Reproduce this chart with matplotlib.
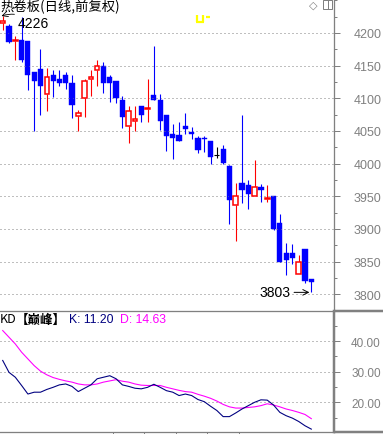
"""
热卷板 日线 K线 + KD 指标 重绘
"""

import matplotlib
matplotlib.use("Agg")
import matplotlib.pyplot as plt
from matplotlib.patches import Rectangle
from matplotlib.lines import Line2D
from matplotlib.ticker import MultipleLocator, FormatStrFormatter

plt.rcParams['font.family'] = ['Liberation Sans', 'Noto Sans CJK SC', 'DejaVu Sans']

# ---------------------------------------------------------------------------
# Data
opens = [4215, 4211, 4187, 4189, 4187, 4140, 4145, 4106, 4136, 4130,
         4136, 4123, 4073, 4100, 4129, 4143, 4149, 4133, 4127, 4097,
         4058, 4066, 4088, 4083, 4105, 4098, 4074, 4045, 4044, 4057,
         4049, 4039, 4040, 4035, 4013, 4022, 3996, 3936, 3970, 3967,
         3951, 3964, 3946, 3950, 3909, 3863, 3863, 3831, 3869, 3823]
closes = [4219, 4186, 4189, 4159, 4135, 4127, 4119, 4132, 4126, 4123,
          4124, 4090, 4077, 4127, 4133, 4149, 4124, 4124, 4100, 4071,
          4080, 4068, 4075, 4085, 4098, 4065, 4042, 4039, 4035, 4053,
          4045, 4021, 4037, 4010, 4013, 4001, 3945, 3950, 3960, 3954,
          3965, 3960, 3948, 3900, 3849, 3852, 3856, 3849, 3820, 3819]
highs = [4226, 4214, 4196, 4224, 4187, 4140, 4176, 4146, 4143, 4143,
         4140, 4135, 4082, 4130, 4143, 4159, 4156, 4135, 4127, 4103,
         4088, 4088, 4088, 4130, 4180, 4106, 4074, 4061, 4064, 4078,
         4056, 4043, 4043, 4035, 4025, 4029, 3998, 3970, 4075, 3975,
         4006, 3969, 3967, 3950, 3923, 3879, 3877, 3860, 3869, 3824]
lows = [4205, 4184, 4159, 4155, 4113, 4050, 4074, 4081, 4102, 4119,
        4114, 4070, 4050, 4072, 4104, 4119, 4108, 4095, 4093, 4054,
        4031, 4050, 4064, 4063, 4097, 4052, 4020, 4007, 4035, 4045,
        4038, 4017, 4018, 3999, 4008, 3999, 3908, 3881, 3940, 3930,
        3951, 3941, 3941, 3899, 3849, 3830, 3846, 3831, 3817, 3803]

k_vals = [33.7, 29.8, 28.2, 25.5, 22.7, 23.3, 23.3, 24.2, 24.9, 25.7,
          26.0, 25.2, 23.5, 24.6, 25.7, 27.7, 28.2, 28.7, 27.7, 25.7,
          25.2, 24.6, 24.4, 24.9, 25.9, 24.9, 23.8, 23.3, 22.2, 22.7,
          22.2, 20.9, 20.2, 18.7, 17.3, 15.3, 15.3, 16.5, 17.8, 18.9,
          20.0, 20.8, 20.7, 19.1, 16.7, 15.6, 14.8, 13.7, 12.3, 11.20]
d_vals = [43.5, 41.3, 39.1, 36.4, 34.2, 32.0, 30.2, 29.0, 28.1, 27.5,
          27.0, 26.6, 26.0, 25.7, 25.7, 26.0, 26.6, 27.0, 27.4, 26.9,
          26.6, 26.0, 25.6, 25.5, 25.5, 25.5, 24.9, 24.4, 23.9, 23.5,
          23.3, 22.6, 22.0, 21.3, 20.4, 19.3, 18.5, 18.1, 18.1, 18.3,
          18.5, 18.9, 19.5, 19.1, 18.5, 17.8, 17.3, 16.7, 16.0, 14.63]

price_ticks = [3800, 3850, 3900, 3950, 4000, 4050, 4100, 4150, 4200]
kd_ticks = [20, 30, 40]
date_ticks = [17.5, 22.5, 27.5, 32.5, 37.5]

title = "热卷板(日线,前复权)"
hi_label = "4226"
lo_label = "3803"

# ---------------------------------------------------------------------------
W, H = 383, 435
GRAY = "#808080"
BLUE = "#0000FF"
RED = "#FF0000"
PX = 0.72  # one pixel in points

fig = plt.figure(figsize=(W / 100, H / 100), dpi=100)


def fx(px):
    return px / W


def fy(py):
    return 1 - py / H


ax = fig.add_axes([0, fy(311), fx(334), 311 / H])
kd = fig.add_axes([0, fy(433), fx(334), (433 - 312) / H])

# --- candles ---------------------------------------------------------------
bw = 0.82
for i, (o, h, l, c) in enumerate(zip(opens, highs, lows, closes)):
    if c < o:
        ax.vlines(i, l, h, color=BLUE, lw=PX * 1.1)
        ax.add_patch(Rectangle((i - bw / 2, c), bw, o - c, facecolor=BLUE,
                               edgecolor=BLUE, lw=0.3))
    elif c > o:
        ax.vlines(i, c, h, color=RED, lw=PX * 1.1)
        ax.vlines(i, l, o, color=RED, lw=PX * 1.1)
        ax.add_patch(Rectangle((i - bw / 2 + 0.05, o), bw - 0.1, c - o,
                               facecolor="white", edgecolor=RED, lw=1.1, zorder=3))
    else:
        ax.vlines(i, l, h, color="black", lw=PX * 1.1)
        ax.hlines(o, i - bw / 2, i + bw / 2, color="black", lw=PX * 1.1)

ax.set_xlim(-0.43, 52.6)
ax.set_ylim(3776, 4252)
ax.set_yticks(price_ticks)
ax.yaxis.set_minor_locator(MultipleLocator(25))
ax.yaxis.tick_right()
ax.set_xticks([])
ax.tick_params(axis="y", which="major", direction="out", length=4.3, width=PX,
               color=GRAY, labelcolor=GRAY, labelsize=9, pad=10)
ax.tick_params(axis="y", which="minor", direction="out", length=2, width=PX, color=GRAY)
ax.grid(True, axis="y", color=GRAY, linestyle=(0, (1, 3)), linewidth=PX)
for s in ["top", "left", "bottom"]:
    ax.spines[s].set_visible(False)
ax.spines["right"].set_color(GRAY)
ax.spines["right"].set_linewidth(PX * 1.3)

# high / low labels
imax = highs.index(max(highs))
ax.annotate(hi_label, xy=(imax - 0.2, highs[imax]), xytext=(2.3, highs[imax] - 11),
            fontsize=10, va="center", ha="left",
            arrowprops=dict(arrowstyle="->", color="black", lw=0.6,
                            shrinkA=0, shrinkB=0, connectionstyle="arc3,rad=0.3"))
imin = lows.index(min(lows))
ax.annotate(lo_label, xy=(imin - 0.3, lows[imin]), xytext=(45.6, lows[imin]),
            fontsize=10, va="center", ha="right",
            arrowprops=dict(arrowstyle="->", color="black", lw=0.7,
                            shrinkA=1, shrinkB=0))

# --- KD ---------------------------------------------------------------------
xs = list(range(len(k_vals)))
kd.plot(xs, d_vals, color="#FF00FF", lw=PX * 1.1)
kd.plot(xs, k_vals, color="#000080", lw=PX * 1.1)
kd.set_xlim(-0.43, 52.6)
kd.set_ylim(10.26, 49.9)
kd.set_yticks(kd_ticks)
kd.yaxis.set_minor_locator(MultipleLocator(5))
kd.yaxis.set_major_formatter(FormatStrFormatter("%.2f"))
kd.yaxis.tick_right()
kd.set_xticks(date_ticks)
kd.set_xticklabels([])
kd.tick_params(axis="x", direction="out", length=2, width=PX, color=GRAY)
kd.tick_params(axis="y", which="major", direction="out", length=4.3, width=PX,
               color=GRAY, labelcolor=GRAY, labelsize=8.5, pad=8)
kd.tick_params(axis="y", which="minor", direction="out", length=2, width=PX, color=GRAY)
kd.grid(True, axis="y", color=GRAY, linestyle=(0, (1, 3)), linewidth=PX)
kd.spines["left"].set_visible(False)
for s in ["top", "bottom"]:
    kd.spines[s].set_color(GRAY)
    kd.spines[s].set_linewidth(PX * 1.3)
kd.spines["right"].set_color(GRAY)
kd.spines["right"].set_linewidth(PX * 2.5)

# --- frame lines running into the right margin ---------------------------------
def fline(x0, y0, x1, y1, lw, color=GRAY):
    fig.add_artist(Line2D([fx(x0), fx(x1)], [fy(y0), fy(y1)], color=color,
                          lw=lw, transform=fig.transFigure, solid_capstyle="butt"))


fline(334, 312, 383, 312, PX * 2.5)
fline(334, 433, 383, 433, PX * 2.5)

# --- texts ---------------------------------------------------------------------
cjk = ["Noto Sans CJK SC", "DejaVu Sans"]
fig.text(fx(0), fy(0), title, family=cjk, fontsize=9.6, va="top", ha="left")
fig.text(fx(0), fy(320), "KD", family=cjk, fontsize=9, va="center", ha="left")
fig.text(fx(16), fy(320), "【巅峰】", family=cjk, fontsize=9, va="center", ha="left",
         weight="bold")
fig.text(fx(69), fy(320), f"K: {k_vals[-1]:.2f}", fontsize=8.8, va="center",
         ha="left", color="#000080")
fig.text(fx(120), fy(320), f"D: {d_vals[-1]:.2f}", fontsize=8.8, va="center",
         ha="left", color="#FF00FF")

# small yellow marker and corner icons
fline(197, 16, 197, 23, 1.6, "#FFFF00")
fline(203, 16, 203, 23, 1.6, "#FFFF00")
fline(196.5, 22.5, 203.5, 22.5, 1.6, "#FFFF00")
fline(206, 17.5, 210, 17.5, 1.6, "#FFFF00")
fig.text(fx(309), fy(6), "◇", family=["DejaVu Sans"], fontsize=8, color=GRAY,
         va="center", ha="left")
fig.add_artist(Rectangle((fx(323), fy(10)), fx(9), 9 / H, fill=False,
                         edgecolor=GRAY, lw=PX, transform=fig.transFigure))
fline(327.5, 1, 327.5, 10, PX)

fig.savefig("out.png", dpi=100, facecolor="white")
